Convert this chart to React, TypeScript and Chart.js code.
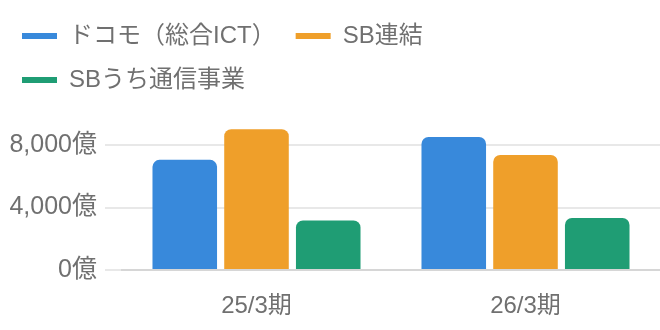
import React, { useEffect, useRef } from "react";
import { Chart, registerables } from "chart.js";

Chart.register(...registerables);

const categories = ["25/3期", "26/3期"];
const seriesNames = ["ドコモ（総合ICT）", "SB連結", "SBうち通信事業"];
const docomo = [7060, 8530];
const sbConsolidated = [9020, 7380];
const sbTelecom = [3170, 3340];
const yTicks = [0, 4000, 8000];
const yMax = 10770;
const colors = ["#3889DB", "#EF9F2A", "#1F9D74"];

const FONT = "'Liberation Sans', 'Noto Sans CJK JP', sans-serif";

export default function App() {
  const ref = useRef<HTMLCanvasElement | null>(null);
  useEffect(() => {
    if (!ref.current) return;
    const data = [docomo, sbConsolidated, sbTelecom];
    const chart = new Chart(ref.current, {
      type: "bar",
      data: {
        labels: categories,
        datasets: seriesNames.map((n, i) => ({
          label: n,
          data: data[i],
          backgroundColor: colors[i],
          borderColor: colors[i],
          borderWidth: 0,
          borderRadius: 7,
          borderSkipped: "bottom",
        })),
      },
      options: {
        animation: false,
        responsive: true,
        maintainAspectRatio: false,
        layout: { padding: { left: 2, top: 4, right: 0, bottom: 0 } },
        plugins: {
          tooltip: { enabled: false },
          legend: {
            position: "top",
            align: "start",
            labels: {
              boxWidth: 35,
              boxHeight: 6,
              padding: 20,
              color: "#707070",
              font: { family: FONT, size: 24 },
            },
          },
        },
        scales: {
          x: {
            grid: { display: false, drawTicks: false },
            border: { display: true, color: "#d6d6d6", width: 2 },
            ticks: {
              color: "#707070",
              font: { family: FONT, size: 24 },
              padding: 22,
            },
            afterFit: (axis: any) => {
              axis.height = 60;
            },
          },
          y: {
            min: 0,
            max: yMax,
            afterBuildTicks: (axis: any) => {
              axis.ticks = yTicks.map((v) => ({ value: v }));
            },
            afterFit: (axis: any) => {
              axis.width = 120;
            },
            grid: { color: "#e8e8e8", lineWidth: 2, tickLength: 17 },
            border: { display: false },
            ticks: {
              color: "#707070",
              padding: 8,
              font: { family: FONT, size: 25 },
              callback: (v: any) => Number(v).toLocaleString("en-US") + "億",
            },
          },
        },
      },
    });
    return () => chart.destroy();
  }, []);
  return (
    <div style={{ position: "absolute", left: 0, top: 0, width: 660, height: 330 }}>
      <canvas ref={ref} />
    </div>
  );
}
